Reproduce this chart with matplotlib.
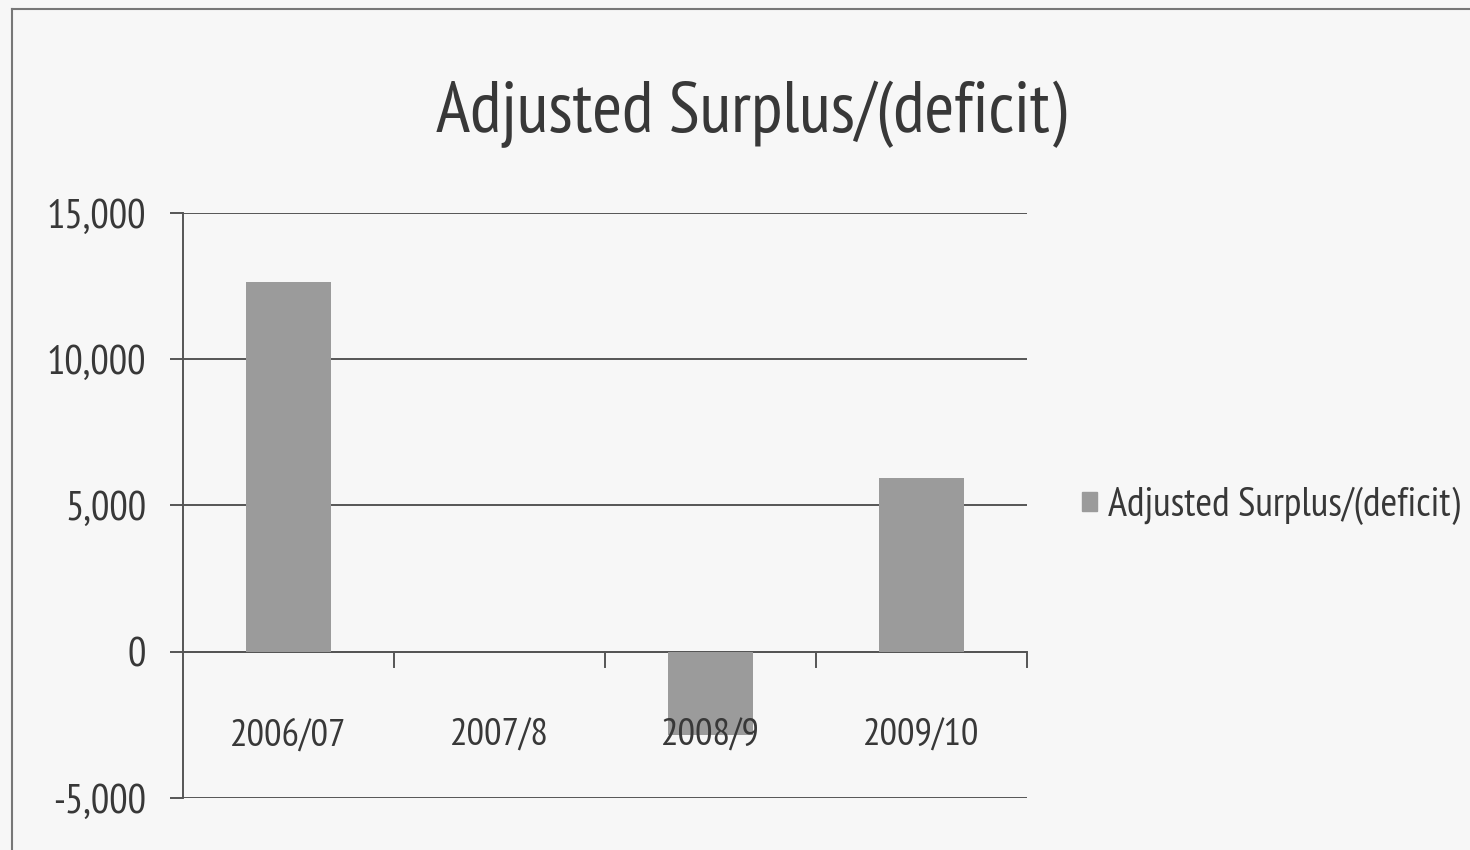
import matplotlib
matplotlib.use("Agg")
import matplotlib.pyplot as plt
from matplotlib.lines import Line2D
from matplotlib.patches import Rectangle
from matplotlib.ticker import FuncFormatter, FixedLocator

# Data
categories = ["2006/07", "2007/8", "2008/9", "2009/10"]
values = [12650, 0, -2850, 5950]
series_name = "Adjusted Surplus/(deficit)"
y_ticks = [-5000, 0, 5000, 10000, 15000]

plt.rcParams["font.family"] = ["PT Sans Narrow", "DejaVu Sans"]

text_col = "#383838"
line_col = "#555555"
bar_col = "#9b9b9b"
bg = "#f7f7f7"

fig = plt.figure(figsize=(14.7, 8.5), dpi=100, facecolor=bg)
ax = fig.add_axes([0.1245, 0.0612, 0.6986 - 0.1245, 0.7494 - 0.0612])
ax.set_facecolor(bg)

x = list(range(len(categories)))
ax.bar(x, values, width=0.4, color=bar_col, zorder=3, label=series_name)

ax.set_xlim(-0.5, len(categories) - 0.5)
ax.set_ylim(-5000, 15000)
ax.yaxis.set_major_locator(FixedLocator(y_ticks))
ax.yaxis.set_major_formatter(FuncFormatter(lambda v, p: f"{int(v):,}"))
ax.grid(axis="y", color=line_col, linewidth=1.4, zorder=1)

for s in ["top", "right", "bottom"]:
    ax.spines[s].set_visible(False)
ax.spines["left"].set_color(line_col)
ax.spines["left"].set_linewidth(1.4)

ax.tick_params(axis="y", length=9.5, width=1.4, color=line_col, labelsize=29.5,
               labelcolor=text_col, pad=17)

# category axis at zero, with ticks on the category boundaries
ax.axhline(0, color=line_col, linewidth=1.4, zorder=2)
ax.set_xticks([])
for b in [i + 0.5 for i in range(len(categories))]:
    ax.plot([b, b], [0, -520], color=line_col, linewidth=1.4, zorder=2, clip_on=False)
for i, c in enumerate(categories):
    ax.text(i, -3210, c, ha="center", va="baseline", fontsize=28, color=text_col, zorder=4)

fig.text(0.511, 1 - 132 / 850, series_name, ha="center", va="baseline", fontsize=52, color=text_col)

fig.legend(handles=[Rectangle((0, 0), 1, 1, color=bar_col)], labels=[series_name],
           loc="center left", bbox_to_anchor=(0.736, 0.405), frameon=False,
           fontsize=29, handlelength=0.37, handleheight=0.37, handletextpad=0.28,
           labelcolor=text_col, borderpad=0, borderaxespad=0)

# outer chart border
fig.add_artist(Line2D([0.0085, 0.0085], [0, 0.9895], color="#777777", linewidth=1.5))
fig.add_artist(Line2D([0.0085, 1.0], [0.9895, 0.9895], color="#777777", linewidth=1.5))

fig.savefig("out.png", dpi=100, facecolor=bg)
